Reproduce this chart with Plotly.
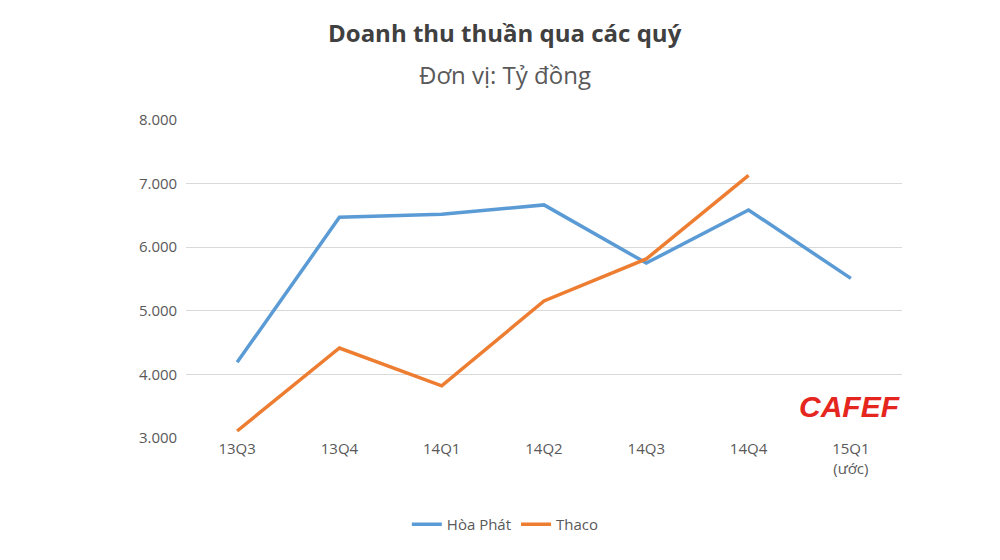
import plotly.graph_objects as go

quarters = ["13Q3", "13Q4", "14Q1", "14Q2", "14Q3", "14Q4", "15Q1<br>(ước)"]
hoa_phat = [4190, 6470, 6520, 6665, 5750, 6585, 5510]
thaco = [3110, 4415, 3820, 5155, 5815, 7130, None]

fig = go.Figure()
fig.add_trace(go.Scatter(x=quarters, y=hoa_phat, name="Hòa Phát", mode="lines",
                         line=dict(color="#5b9bd5", width=3.5)))
fig.add_trace(go.Scatter(x=quarters, y=thaco, name="Thaco", mode="lines",
                         line=dict(color="#ed7d31", width=3.5)))

fig.update_layout(
    width=1000, height=560,
    paper_bgcolor="white", plot_bgcolor="white",
    separators=",.",
    font=dict(family="Open Sans, Liberation Sans, sans-serif", color="#595959", size=15),
    margin=dict(l=178, r=106, t=112, b=130),
    xaxis=dict(showgrid=False, showline=False, ticks="", range=[-0.5, 6.5],
               tickfont=dict(size=15)),
    yaxis=dict(range=[3000, 8000], dtick=1000, tickformat=",.0f", showgrid=True,
               gridcolor="#d9d9d9", zeroline=False, tickfont=dict(size=15), ticksuffix="  "),
    legend=dict(orientation="h", x=0.446, xanchor="center", y=-0.22, yanchor="top",
                font=dict(size=15)),
    showlegend=True,
)

# title lines placed in pixels from the top, centred on the page
fig.add_annotation(text="<b>Doanh thu thuần qua các quý</b>", xref="paper", yref="paper",
                   x=0.446, y=1 + 87 / 318, xanchor="center", yanchor="middle", showarrow=False,
                   font=dict(size=24, color="#404040"))
fig.add_annotation(text="Đơn vị: Tỷ đồng", xref="paper", yref="paper",
                   x=0.446, y=1 + 45 / 318, xanchor="center", yanchor="middle", showarrow=False,
                   font=dict(size=24, color="#595959"))
fig.add_annotation(text="<b><i>CAFEF</i></b>", xref="paper", yref="paper", x=1.0, y=0.1,
                   xanchor="right", yanchor="middle", showarrow=False,
                   font=dict(size=30, color="#e5261f", family="Liberation Sans, Arial"))

fig.write_html("out.html")
